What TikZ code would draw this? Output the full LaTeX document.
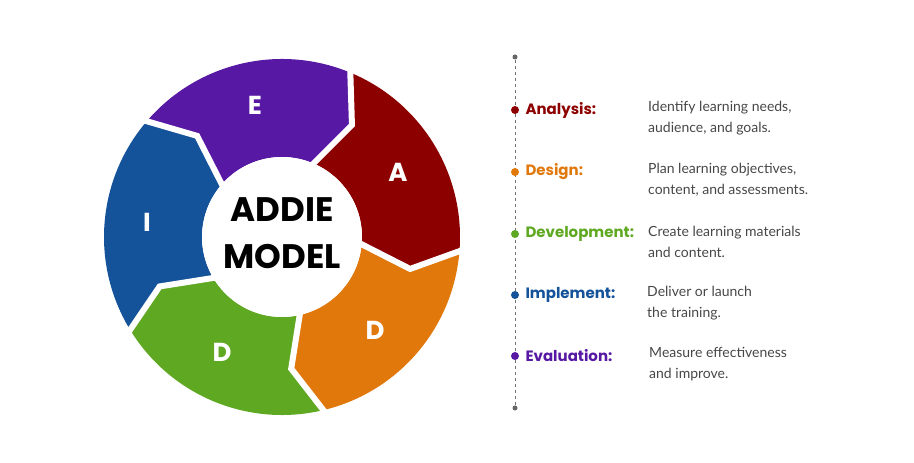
\documentclass[tikz,border=0pt]{standalone}
\usepackage{fontspec}
\usetikzlibrary{calc}
\setmainfont{Lato}
\newfontfamily\headfont{Poppins}
\begin{document}
\begin{tikzpicture}[x=1pt,y=1pt,
  seglbl/.style={font=\headfont\bfseries\fontsize{26}{26}\selectfont, text=white},
  phase/.style={anchor=west, font=\headfont\fontsize{15}{15}\selectfont\bfseries},
  desc/.style={anchor=west, align=left, text=black!72, font=\fontsize{14}{21}\selectfont},
  pdot/.style={circle, inner sep=0pt, minimum size=8pt},
  gap/.style={draw=white, line width=6pt, line join=miter}]
\definecolor{cA}{HTML}{8C0000}
\definecolor{cD}{HTML}{E0780C}
\definecolor{cV}{HTML}{5FA822}
\definecolor{cI}{HTML}{14529A}
\definecolor{cE}{HTML}{5718A4}
\useasboundingbox (0,0) rectangle (914,463);
\coordinate (c) at (282,226);
\def\R{178}\def\r{80}\def\m{132}
\foreach \b/\col in {68/cA, -4/cD, -76/cV, -148/cI, -220/cE}{
  \pgfmathsetmacro{\e}{\b-72}
  \pgfmathsetmacro{\bp}{\b-10}
  \pgfmathsetmacro{\ep}{\e-10}
  \fill[\col] ($(c)+(\b:\R)$) arc[start angle=\b, end angle=\e, radius=\R]
    -- ($(c)+(\ep:\m)$) -- ($(c)+(\e:\r)$)
    arc[start angle=\e, end angle=\b, radius=\r]
    -- ($(c)+(\bp:\m)$) -- cycle;
}
\foreach \b in {68, -4, -76, -148, -220}{
  \pgfmathsetmacro{\bp}{\b-10}
  \draw[gap] ($(c)+(\b:\R+4)$) -- ($(c)+(\bp:\m)$) -- ($(c)+(\b:\r-4)$);
}
\fill[white] (c) circle (\r);
\node[seglbl] (lE) at (255,358) {E};
\node[seglbl] (lA) at (398,291) {A};
\node[seglbl] (lD1) at (375,133) {D};
\node[seglbl] (lD2) at (222,111) {D};
\node[seglbl] (lI) at (147,241) {I};
\node[font=\headfont\bfseries\fontsize{34}{34}\selectfont] (t1) at (282,253) {ADDIE};
\node[font=\headfont\bfseries\fontsize{34}{34}\selectfont] (t2) at (282,206) {MODEL};
\node[pdot, minimum size=5pt, fill=black!60] (top) at (515,406) {};
\node[pdot, minimum size=5pt, fill=black!60] (bot) at (515,55) {};
\draw[black!55, dashed, line width=1pt] (top) -- (bot);
\foreach \n/\y/\col/\lab/\dx/\ta/\tb in {
  a/353/cA/Analysis:/648/{Identify learning needs,}/{audience, and goals.},
  b/291/cD/Design:/648/{Plan learning objectives,}/{content, and assessments.},
  c/229/cV/Development:/648/{Create learning materials}/{and content.},
  d/168/cI/Implement:/647/{Deliver or launch}/{the training.},
  e/107/cE/Evaluation:/649/{Measure effectiveness}/{and improve.}}{
  \node[pdot, fill=\col] (dot\n) at (515,\y) {};
  \node[phase, text=\col] (ph\n) at (522,\y) {\lab};
  \node[desc, inner sep=0pt] (ds\n) at (\dx,\y-8) {\ta\\\tb};
}
\end{tikzpicture}
\end{document}
